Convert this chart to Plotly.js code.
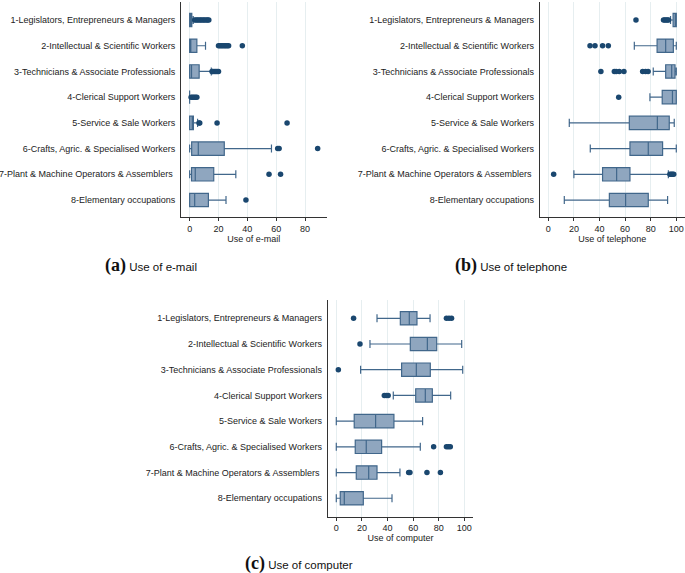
<!DOCTYPE html>
<html>
<head>
<meta charset="utf-8">
<script src="https://cdn.plot.ly/plotly-3.0.1.min.js"></script>
<style>html,body{margin:0;padding:0;background:#fff;}#chart{width:685px;height:573px;}</style>
</head>
<body>
<div id="chart"></div>
<script>
var categories = [
  "1-Legislators, Entrepreneurs & Managers",
  "2-Intellectual & Scientific Workers",
  "3-Technicians & Associate Professionals",
  "4-Clerical Support Workers",
  "5-Service & Sale Workers",
  "6-Crafts, Agric. & Specialised Workers",
  "7-Plant & Machine Operators & Assemblers\u00a0",
  "8-Elementary occupations"
];

// (a) Use of e-mail
var emailLow = [0, 0, 0, 0, 0, 0, 0, 0];
var emailQ1  = [0, 0, 0, 0, 0, 1.4, 1.3, 0];
var emailMed = [0.3, 0.8, 1.3, 0, 1.8, 6, 3.9, 3.5];
var emailQ3  = [1.5, 5, 6.6, 0, 2.6, 24, 16.7, 13];
var emailHigh = [2.5, 11, 15, 0, 5.5, 56.7, 32, 25.2];
var emailOut = [
  [3.5, 4.5, 5.5, 6.5, 7.5, 8.5, 9.5, 10.5, 11.5, 12.5, 13.3],
  [20, 21, 22, 23, 24, 25, 26, 27, 36.5],
  [15.5, 16, 17, 18, 19, 20],
  [1, 2, 3, 4, 5],
  [6.5, 7, 19, 67.5],
  [61, 62, 88.7],
  [55, 63],
  [39]
];

// (b) Use of telephone
var phoneLow = [95.5, 67.2, 82, 79.4, 16.4, 32.8, 20, 12.5];
var phoneQ1  = [97.5, 85, 91.7, 89, 63.3, 63.8, 42.4, 47.7];
var phoneMed = [99.5, 91.7, 96.4, 97, 85.2, 78.1, 53.4, 60.4];
var phoneQ3  = [100, 97.7, 99, 100, 94.5, 89.3, 63.8, 78.1];
var phoneHigh = [100, 100, 100, 100, 98.4, 100, 93.8, 93.2];
var phoneOut = [
  [68.5, 90, 91, 92, 93, 94],
  [32.6, 36.5, 42.4, 46.9],
  [41.1, 51.6, 53, 55.5, 59.1, 73.7, 76, 78],
  [55],
  [],
  [],
  [4.2, 95, 96, 97, 98],
  []
];

// (c) Use of computer
var compLow = [31.8, 26.3, 19, 44.5, 0, 0, 0, 0];
var compQ1  = [50, 57.8, 51, 62, 14, 14.8, 15.6, 3.1];
var compMed = [57, 71.1, 62.5, 69.5, 30.7, 23.4, 25.3, 6.25];
var compQ3  = [63, 78.4, 73.4, 75, 45, 35.4, 31.8, 21.1];
var compHigh = [73.2, 97.9, 98.7, 89.3, 67.4, 65.6, 49.7, 43.5];
var compOut = [
  [13.5, 86, 88, 90],
  [18.5],
  [1.6],
  [37.5, 39, 40.5],
  [],
  [76, 86, 87.5, 89],
  [56.5, 57.5, 70.8, 81.3],
  []
];

var tickVals = [0, 20, 40, 60, 80, 100];
var captionA = "Use of e-mail";
var captionB = "Use of telephone";
var captionC = "Use of computer";

var NAVY = "#1a476f";
var BOXLINE = "#41678b";
var BOXFILL = "#8fa6bf";

function boxTrace(lo, q1, med, q3, hi, xa, ya) {
  return {
    type: "box", orientation: "h",
    y: categories, q1: q1, median: med, q3: q3,
    lowerfence: lo, upperfence: hi,
    boxpoints: false, width: 0.52, whiskerwidth: 0.6,
    fillcolor: BOXFILL, line: {color: BOXLINE, width: 1.2},
    xaxis: xa, yaxis: ya, showlegend: false, hoverinfo: "skip"
  };
}
function outTrace(out, xa, ya) {
  var xs = [], ys = [];
  out.forEach(function (arr, i) {
    arr.forEach(function (v) { xs.push(v); ys.push(categories[i]); });
  });
  return {
    type: "scatter", mode: "markers", x: xs, y: ys,
    marker: {color: NAVY, size: 5.5},
    xaxis: xa, yaxis: ya, showlegend: false, hoverinfo: "skip"
  };
}

var data = [
  boxTrace(emailLow, emailQ1, emailMed, emailQ3, emailHigh, "x", "y"),
  outTrace(emailOut, "x", "y"),
  boxTrace(phoneLow, phoneQ1, phoneMed, phoneQ3, phoneHigh, "x2", "y2"),
  outTrace(phoneOut, "x2", "y2"),
  boxTrace(compLow, compQ1, compMed, compQ3, compHigh, "x3", "y3"),
  outTrace(compOut, "x3", "y3")
];

var FONT = "Liberation Sans, Arial, sans-serif";
var TXT = 9;
function xAxis(domain, range, anchor, title) {
  return {
    domain: domain, range: range, anchor: anchor,
    tickmode: "array", tickvals: tickVals,
    ticks: "outside", ticklen: 3, tickcolor: "#333", tickwidth: 1,
    showline: true, linecolor: "#333", linewidth: 1,
    showgrid: true, gridcolor: "#e6eef0", gridwidth: 1,
    zeroline: false,
    tickfont: {family: FONT, size: TXT, color: "#222"},
    title: {text: title, font: {family: FONT, size: TXT, color: "#222"}, standoff: 0}
  };
}
function yAxis(domain, range, anchor) {
  return {
    domain: domain, range: range, anchor: anchor,
    type: "category", categoryorder: "array", categoryarray: categories,
    showline: true, linecolor: "#333", linewidth: 1,
    showgrid: false, zeroline: false, ticks: "",
    ticklabelstandoff: 3,
    tickfont: {family: FONT, size: TXT, color: "#222"}
  };
}

var capStyle = function (letter, text) {
  return '<span style="font-family:Liberation Serif;font-size:18px;font-weight:bold">(' + letter + ')</span> ' + text;
};

var layout = {
  width: 685, height: 573,
  margin: {l: 0, r: 0, t: 0, b: 0},
  paper_bgcolor: "#fff", plot_bgcolor: "#fff",
  font: {family: FONT, size: TXT, color: "#222"},
  xaxis: xAxis([0.2642, 0.4770], [-6, 95], "y", "Use of e-mail"),
  yaxis: yAxis([0.6213, 0.9965], [7.66, -0.70], "x"),
  xaxis2: xAxis([0.7879, 1.0], [-6.7, 106.8], "y2", "Use of telephone"),
  yaxis2: yAxis([0.6213, 0.9965], [7.66, -0.70], "x2"),
  xaxis3: xAxis([0.4784, 0.6910], [-6.7, 107], "y3", "Use of computer"),
  yaxis3: yAxis([0.0983, 0.4764], [7.716, -0.71], "x3"),
  annotations: [
    {xref: "paper", yref: "paper", x: 0.1504, y: 0.5363, xanchor: "left", yanchor: "middle",
     showarrow: false, text: capStyle("a", captionA), font: {family: FONT, size: 11.5, color: "#111"}},
    {xref: "paper", yref: "paper", x: 0.6613, y: 0.5363, xanchor: "left", yanchor: "middle",
     showarrow: false, text: capStyle("b", captionB), font: {family: FONT, size: 11.5, color: "#111"}},
    {xref: "paper", yref: "paper", x: 0.3547, y: 0.01745, xanchor: "left", yanchor: "middle",
     showarrow: false, text: capStyle("c", captionC), font: {family: FONT, size: 11.5, color: "#111"}}
  ]
};

Plotly.newPlot("chart", data, layout, {staticPlot: true, displayModeBar: false});
</script>
</body>
</html>
